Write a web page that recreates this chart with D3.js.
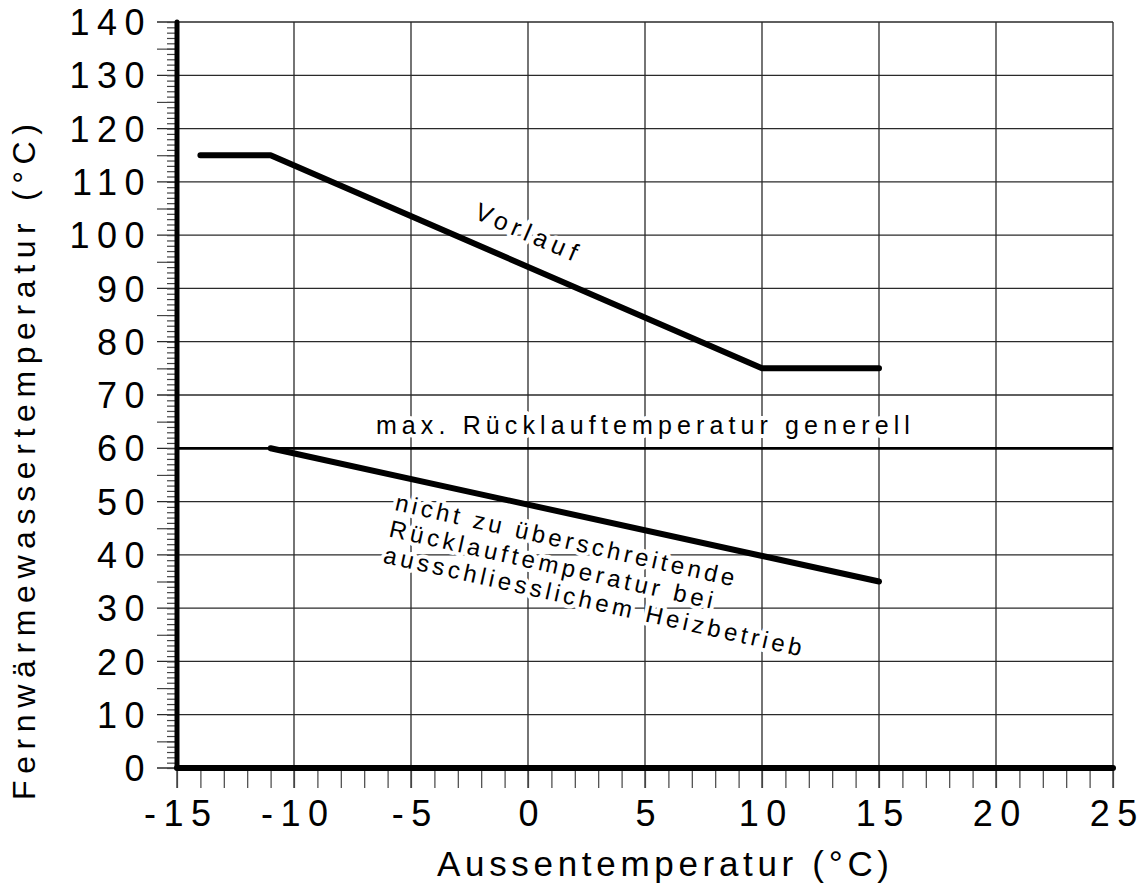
<!DOCTYPE html>
<html>
<head>
<meta charset="utf-8">
<script src="https://cdn.jsdelivr.net/npm/d3@7"></script>
<style>
  body { margin: 0; background: #fff; }
  svg { display: block; font-family: "Liberation Sans", Arial, sans-serif; }
</style>
</head>
<body>
<script>
// Tick values
const xTicks = d3.range(-15, 26, 5);
const yTicks = d3.range(0, 141, 10);

// Vorlauf (supply) curve
const vorlaufX = [-14, -11, 10, 15];
const vorlaufY = [115, 115, 75, 75];

// Ruecklauf (return) limit for heating only
const ruecklaufX = [-11, 15];
const ruecklaufY = [60, 35];

// General max return temperature
const maxRuecklauf = 60;

const W = 1145, H = 885;

const svg = d3.select("body").append("svg")
    .attr("width", W)
    .attr("height", H);

const x = d3.scaleLinear().domain([-15, 25]).range([177, 1113]);
const y = d3.scaleLinear().domain([0, 140]).range([768, 22]);

const gridColor = "#2a2a2a";

// Grid lines (extend past the axes like the original)
svg.append("g").selectAll("line")
    .data(xTicks)
    .join("line")
    .attr("x1", d => x(d)).attr("x2", d => x(d))
    .attr("y1", y(140)).attr("y2", y(0) + 20)
    .attr("stroke", gridColor).attr("stroke-width", 1.3);

svg.append("g").selectAll("line")
    .data(yTicks)
    .join("line")
    .attr("x1", x(-15) - 20).attr("x2", x(25))
    .attr("y1", d => y(d)).attr("y2", d => y(d))
    .attr("stroke", gridColor).attr("stroke-width", 1.3);

// Minor ticks
function tickStyle(g) {
    g.select(".domain").remove();
    g.selectAll(".tick line").attr("stroke", "#444").attr("stroke-width", 1.2);
}

svg.append("g")
    .attr("transform", `translate(0,${y(0)})`)
    .call(d3.axisBottom(x).tickValues(d3.range(-15, 26, 1)).tickSize(20).tickFormat(""))
    .call(tickStyle);

svg.append("g")
    .attr("transform", `translate(${x(-15)},0)`)
    .call(d3.axisLeft(y).tickValues(d3.range(0, 141, 1)).tickSize(10).tickFormat(""))
    .call(tickStyle);

svg.append("g")
    .attr("transform", `translate(${x(-15)},0)`)
    .call(d3.axisLeft(y).tickValues(d3.range(5, 140, 10)).tickSize(20).tickFormat(""))
    .call(tickStyle);

// Tick labels
const xLab = svg.append("g")
    .attr("transform", `translate(0,${y(0)})`)
    .call(d3.axisBottom(x).tickValues(xTicks).tickSize(0).tickPadding(32).tickFormat(d => String(d)));
xLab.select(".domain").remove();
xLab.selectAll("text")
    .attr("font-size", 36).attr("font-family", "Liberation Sans, Arial, sans-serif")
    .attr("letter-spacing", 7.5).attr("dx", 3.75).attr("fill", "#000");

const yLab = svg.append("g")
    .attr("transform", `translate(${x(-15)},0)`)
    .call(d3.axisLeft(y).tickValues(yTicks).tickSize(0).tickPadding(25).tickFormat(d => String(d)));
yLab.select(".domain").remove();
yLab.selectAll("text")
    .attr("font-size", 36).attr("font-family", "Liberation Sans, Arial, sans-serif")
    .attr("letter-spacing", 7.5).attr("dy", "0.35em").attr("fill", "#000");

// Axis titles
svg.append("text")
    .attr("x", 663).attr("y", 876)
    .attr("text-anchor", "middle")
    .attr("font-size", 35)
    .attr("textLength", 452).attr("lengthAdjust", "spacing")
    .text("Aussentemperatur (°C)");

svg.append("text")
    .attr("transform", "translate(35,462) rotate(-90)")
    .attr("text-anchor", "middle")
    .attr("font-size", 32)
    .attr("textLength", 676).attr("lengthAdjust", "spacing")
    .text("Fernwärmewassertemperatur (°C)");

// Annotations (white halo breaks the grid like the original)
function halo(t) {
    t.attr("stroke", "#fff").attr("stroke-width", 8)
     .attr("stroke-linejoin", "round").attr("paint-order", "stroke")
     .attr("fill", "#000");
}

function screenAngle(xs, ys, i) {
    const dx = x(xs[i + 1]) - x(xs[i]);
    const dy = y(ys[i + 1]) - y(ys[i]);
    return Math.atan2(dy, dx) * 180 / Math.PI;
}

svg.append("text")
    .attr("x", x(-6.5)).attr("y", y(62.7))
    .attr("font-size", 25)
    .attr("textLength", 534).attr("lengthAdjust", "spacing")
    .call(halo)
    .text("max. Rücklauftemperatur generell");

svg.append("text")
    .attr("transform", `translate(${x(-2.35)},${y(103.2)}) rotate(${screenAngle(vorlaufX, vorlaufY, 1)})`)
    .attr("font-size", 25)
    .attr("textLength", 109).attr("lengthAdjust", "spacing")
    .call(halo)
    .text("Vorlauf");

const blockLines = ["nicht zu überschreitende", "Rücklauftemperatur bei", "ausschliesslichem Heizbetrieb"];
const blockLengths = [347, 331, 428];
const block = svg.append("g")
    .attr("transform", `translate(${x(-5.73)},${y(48.4)}) rotate(${screenAngle(ruecklaufX, ruecklaufY, 0) + 0.3})`);
block.selectAll("text")
    .data(blockLines)
    .join("text")
    .attr("x", 0).attr("y", (d, i) => i * 26.8)
    .attr("font-size", 24)
    .attr("textLength", (d, i) => blockLengths[i]).attr("lengthAdjust", "spacing")
    .call(halo)
    .text(d => d);

// Data lines
const line = d3.line().x(d => x(d[0])).y(d => y(d[1]));

svg.append("line")
    .attr("x1", x(-15)).attr("x2", x(25))
    .attr("y1", y(maxRuecklauf)).attr("y2", y(maxRuecklauf))
    .attr("stroke", "#000").attr("stroke-width", 2.8);

svg.append("path")
    .attr("d", line(d3.zip(vorlaufX, vorlaufY)))
    .attr("fill", "none").attr("stroke", "#000").attr("stroke-width", 6)
    .attr("stroke-linecap", "round").attr("stroke-linejoin", "round");

svg.append("path")
    .attr("d", line(d3.zip(ruecklaufX, ruecklaufY)))
    .attr("fill", "none").attr("stroke", "#000").attr("stroke-width", 6)
    .attr("stroke-linecap", "round").attr("stroke-linejoin", "round");

// Thick axes
svg.append("line")
    .attr("x1", x(-15)).attr("x2", x(-15))
    .attr("y1", y(0)).attr("y2", y(140))
    .attr("stroke", "#000").attr("stroke-width", 5).attr("stroke-linecap", "round");

svg.append("line")
    .attr("x1", x(-15)).attr("x2", x(25))
    .attr("y1", y(0)).attr("y2", y(0))
    .attr("stroke", "#000").attr("stroke-width", 6).attr("stroke-linecap", "round");
</script>
</body>
</html>
